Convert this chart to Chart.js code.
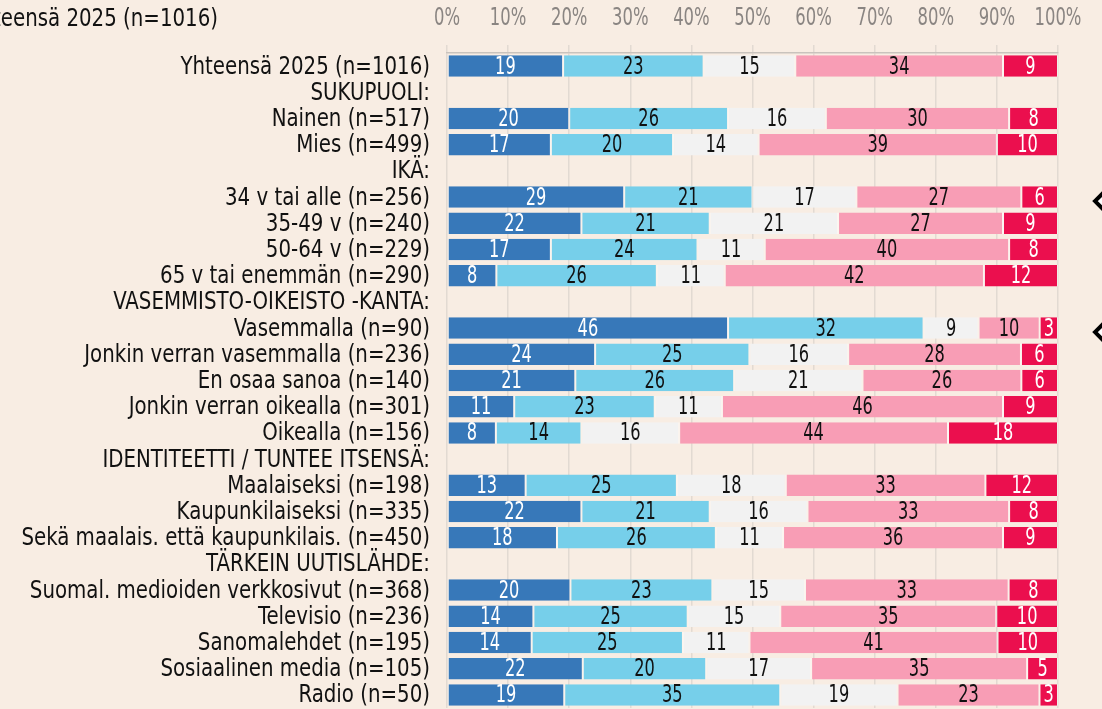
<!DOCTYPE html>
<html>
<head>
<meta charset="utf-8">
<script src="https://cdn.jsdelivr.net/npm/chart.js@4/dist/chart.umd.min.js"></script>
<style>
  html, body { margin: 0; padding: 0; background: #f8ede3; overflow: hidden; }
  canvas { display: block; }
</style>
</head>
<body>
<canvas id="chart" width="1102" height="709"></canvas>
<script>
// Data
const categories = [
    'Yhteensä 2025 (n=1016)', 'SUKUPUOLI:', 'Nainen (n=517)', 'Mies (n=499)', 'IKÄ:',
    '34 v tai alle (n=256)', '35-49 v (n=240)', '50-64 v (n=229)', '65 v tai enemmän (n=290)',
    'VASEMMISTO-OIKEISTO -KANTA:', 'Vasemmalla (n=90)', 'Jonkin verran vasemmalla (n=236)',
    'En osaa sanoa (n=140)', 'Jonkin verran oikealla (n=301)', 'Oikealla (n=156)',
    'IDENTITEETTI / TUNTEE ITSENSÄ:', 'Maalaiseksi (n=198)', 'Kaupunkilaiseksi (n=335)',
    'Sekä maalais. että kaupunkilais. (n=450)', 'TÄRKEIN UUTISLÄHDE:',
    'Suomal. medioiden verkkosivut (n=368)', 'Televisio (n=236)', 'Sanomalehdet (n=195)',
    'Sosiaalinen media (n=105)', 'Radio (n=50)'
];
const s1 = [19, null, 20, 17, null, 29, 22, 17, 8, null, 46, 24, 21, 11, 8, null, 13, 22, 18, null, 20, 14, 14, 22, 19];
const s2 = [23, null, 26, 20, null, 21, 21, 24, 26, null, 32, 25, 26, 23, 14, null, 25, 21, 26, null, 23, 25, 25, 20, 35];
const s3 = [15, null, 16, 14, null, 17, 21, 11, 11, null, 9, 16, 21, 11, 16, null, 18, 16, 11, null, 15, 15, 11, 17, 19];
const s4 = [34, null, 30, 39, null, 27, 27, 40, 42, null, 10, 28, 26, 46, 44, null, 33, 33, 36, null, 33, 35, 41, 35, 23];
const s5 = [9, null, 8, 10, null, 6, 9, 8, 12, null, 3, 6, 6, 9, 18, null, 12, 8, 9, null, 8, 10, 10, 5, 3];
const xTicks = ['0%', '10%', '20%', '30%', '40%', '50%', '60%', '70%', '80%', '90%', '100%'];
const markedRows = ['34 v tai alle (n=256)', 'Vasemmalla (n=90)'];

const series = [s1, s2, s3, s4, s5];
const colors = ['#3778b9', '#76cfea', '#f2f2f2', '#f89db5', '#eb0f4e'];
const labelColors = ['#ffffff', '#111111', '#111111', '#111111', '#ffffff'];
const FONT = "'Liberation Sans Narrow', 'DejaVu Sans Condensed', 'Roboto', sans-serif";

// 100 % stacked: scale each row to its total
const totals = categories.map((c, i) => series.reduce((a, s) => a + (s[i] || 0), 0));

const datasets = series.map((s, k) => ({
    label: 'S' + (k + 1),
    data: s.map((v, i) => v === null ? null : v / totals[i] * 100),
    raw: s,
    backgroundColor: colors[k],
    borderColor: 'rgba(255,255,255,0.5)',
    borderWidth: { left: 1, right: 1, top: 0, bottom: 0 },
    borderSkipped: false,
    barPercentage: 0.82,
    categoryPercentage: 1
}));

// draw text squeezed horizontally around an anchor (the original uses a condensed face)
function squeezedText(ctx, text, x, y, align, squeeze) {
    ctx.save();
    ctx.translate(x, y);
    ctx.scale(squeeze, 1);
    ctx.textAlign = align;
    ctx.fillText(text, 0, 0);
    ctx.restore();
}

// Texts and extras
const overlay = {
    id: 'overlay',
    afterDatasetsDraw(chart) {
        const ctx = chart.ctx;
        const xs = chart.scales.x, ys = chart.scales.y;
        ctx.save();
        ctx.textBaseline = 'middle';

        // segment values
        ctx.font = '25px ' + FONT;
        chart.data.datasets.forEach((ds, k) => {
            chart.getDatasetMeta(k).data.forEach((bar, i) => {
                const v = ds.raw[i];
                if (v === null) return;
                ctx.fillStyle = labelColors[k];
                squeezedText(ctx, String(v), (bar.x + bar.base) / 2, bar.y + 1, 'center', 0.72);
            });
        });

        // category labels
        ctx.fillStyle = '#111';
        ctx.font = '25px ' + FONT;
        categories.forEach((c, i) => {
            squeezedText(ctx, c, chart.chartArea.left - 17, ys.getPixelForValue(i) + 1, 'right', 0.88);
        });

        // percent ticks on top
        ctx.fillStyle = '#8a8582';
        ctx.font = '24px ' + FONT;
        xTicks.forEach((t, i) => {
            squeezedText(ctx, t, xs.getPixelForValue(i * 10), 19, 'center', 0.76);
        });

        // cut-off heading at top-left
        ctx.fillStyle = '#111';
        ctx.font = '25px ' + FONT;
        squeezedText(ctx, categories[0], 218, 19, 'right', 0.88);

        // diamond markers at the right edge
        ctx.strokeStyle = '#000';
        ctx.fillStyle = '#fff';
        ctx.lineWidth = 4;
        markedRows.forEach(name => {
            const cy = ys.getPixelForValue(categories.indexOf(name)) + 4;
            const cx = 1104, h = 9;
            ctx.beginPath();
            ctx.moveTo(cx - h, cy);
            ctx.lineTo(cx, cy - h);
            ctx.lineTo(cx + h, cy);
            ctx.lineTo(cx, cy + h);
            ctx.closePath();
            ctx.fill();
            ctx.stroke();
        });
        ctx.restore();
    }
};

new Chart(document.getElementById('chart'), {
    type: 'bar',
    data: { labels: categories, datasets },
    plugins: [overlay],
    options: {
        indexAxis: 'y',
        responsive: false,
        animation: false,
        layout: { padding: { left: 0, right: 44, top: 0, bottom: 1 } },
        plugins: { legend: { display: false }, tooltip: { enabled: false } },
        scales: {
            x: {
                position: 'top',
                stacked: true,
                min: 0,
                max: 100,
                afterFit(scale) { scale.height = 53; },
                grid: { color: '#e2dad2', lineWidth: 1.5, tickLength: 8, drawTicks: true },
                border: { color: '#c9c3bd', width: 1.5 },
                ticks: { stepSize: 10, display: false }
            },
            y: {
                stacked: true,
                afterFit(scale) { scale.width = 447; },
                grid: { display: false },
                border: { display: false },
                ticks: { display: false, autoSkip: false }
            }
        }
    }
});
</script>
</body>
</html>
